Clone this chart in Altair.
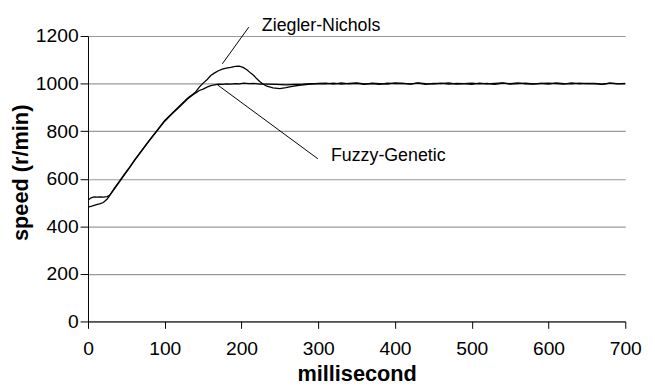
import altair as alt
import pandas as pd

# ---- data ----
zn_t = [0, 5, 10, 15, 20, 25, 28, 34, 41, 47, 53, 61, 70, 80, 90, 100, 110, 120, 130, 140,
        145, 150, 155, 160, 165, 170, 175, 180, 186, 192, 197, 202, 207, 212, 216, 220, 224,
        228, 233, 241, 250, 258, 266, 275, 284, 292, 300,
        310, 320, 330, 340, 350, 360, 370, 380, 390, 400, 410, 420, 430, 440, 450, 460, 470,
        480, 490, 500, 510, 520, 530, 540, 550, 560, 570, 580, 590, 600, 610, 620, 630, 640,
        650, 660, 670, 680, 690, 700]
zn_v = [481, 485, 490, 494, 500, 515, 528, 558, 590, 617, 643, 680, 719, 762, 803, 845, 877, 908, 939, 964,
        985, 1002, 1016, 1034, 1045, 1054, 1061, 1065, 1068, 1072, 1073, 1068, 1058, 1044, 1034, 1020, 1008,
        998, 989, 982, 979, 983, 988, 993, 996, 999, 1001,
        1002, 998, 1003, 999, 1001, 997, 1002, 1000, 998, 1003, 1001, 999, 1002, 997, 1001, 1000, 1003,
        998, 1000, 1002, 999, 1001, 997, 1002, 1000, 1003, 999, 998, 1001, 1002, 1000, 998, 1003, 999,
        1001, 1000, 997, 1002, 1000, 999]

fg_t = [0, 4, 8, 12, 16, 20, 25, 28, 34, 41, 47, 53, 61, 70, 80, 90, 100, 110, 120, 130, 140,
        145, 150, 155, 160, 165, 170, 175, 180, 186, 192, 197, 203, 210, 216, 224, 233, 245,
        258, 270, 280, 290, 300,
        310, 320, 330, 340, 350, 360, 370, 380, 390, 400, 410, 420, 430, 440, 450, 460, 470,
        480, 490, 500, 510, 520, 530, 540, 550, 560, 570, 580, 590, 600, 610, 620, 630, 640,
        650, 660, 670, 680, 690, 700]
fg_v = [510, 520, 524, 523, 524, 523, 525, 530, 555, 587, 614, 641, 678, 717, 760, 801, 842, 874, 905, 936, 960,
        971, 977, 985, 991, 995, 998, 997, 999, 998, 1000, 999, 1002, 1000, 1001, 998, 998, 997,
        995, 997, 998, 1000, 999,
        999, 1002, 998, 1001, 1003, 999, 1000, 997, 1002, 1000, 1001, 998, 1003, 1000, 999, 1002, 998,
        1001, 1000, 997, 1002, 999, 1001, 1003, 998, 1000, 1002, 999, 1001, 998, 1003, 1000, 999,
        1002, 1000, 1001, 998, 1002, 999, 1001]

x_ticks = [0, 100, 200, 300, 400, 500, 600, 700]
y_ticks = [0, 200, 400, 600, 800, 1000, 1200]

labels = ["Ziegler-Nichols", "Fuzzy-Genetic"]
label_x = [226.5, 316.6]
label_y = [1221, 673]
lead_x = [209.4, 168.6]
lead_y = [1237, 995]
lead_x2 = [175.0, 299.4]
lead_y2 = [1083, 684]

# ---- build tables ----
df = pd.concat([
    pd.DataFrame({"t": zn_t, "v": zn_v, "series": "Ziegler-Nichols"}),
    pd.DataFrame({"t": fg_t, "v": fg_v, "series": "Fuzzy-Genetic"}),
])
ann = pd.DataFrame({"x": label_x, "y": label_y, "label": labels})
leads = pd.DataFrame({"x": lead_x, "y": lead_y, "x2": lead_x2, "y2": lead_y2})

FONT = "Liberation Sans"

xscale = alt.Scale(domain=[0, 700], nice=False, zero=False)
yscale = alt.Scale(domain=[0, 1200], nice=False)

lines = alt.Chart(df).mark_line(color="black", strokeWidth=1.3, clip=True).encode(
    x=alt.X("t:Q", scale=xscale, axis=alt.Axis(
        values=x_ticks, format="d", title="millisecond", grid=False, labelFlush=False,
        labelFontSize=19.5, labelColor="black", labelPadding=11, tickSize=7,
        tickColor="black", domainColor="black",
        titleFontSize=22, titleFontWeight="bold", titleColor="black",
        titleBaseline="alphabetic", titleY=60)),
    y=alt.Y("v:Q", scale=yscale, axis=alt.Axis(
        values=y_ticks, format="d", title="speed (r/min)", grid=True, gridColor="#999999", gridWidth=1.2,
        labelFlush=False,
        labelFontSize=19.5, labelColor="black", labelPadding=2, tickSize=8,
        tickColor="black", domainColor="black",
        titleFontSize=22, titleFontWeight="bold", titleColor="black",
        titleAngle=270, titleAlign="center", titleBaseline="alphabetic",
        titleX=-61, titleY=138)),
    detail="series:N",
    order="t:Q",
)

rules = alt.Chart(leads).mark_rule(color="black", strokeWidth=1).encode(
    x=alt.X("x:Q", scale=xscale), y=alt.Y("y:Q", scale=yscale),
    x2="x2:Q", y2="y2:Q",
)

texts = alt.Chart(ann).mark_text(align="left", baseline="alphabetic", fontSize=18,
                                 font=FONT, color="black").encode(
    x=alt.X("x:Q", scale=xscale), y=alt.Y("y:Q", scale=yscale), text="label:N",
)

chart = alt.layer(lines, rules, texts).properties(
    width=544, height=289,
    autosize=alt.AutoSizeParams(type="none"),
    padding={"left": 81, "top": 26, "right": 22, "bottom": 64},
).configure(font=FONT).configure_view(stroke=None)

chart.save("out.html", embed_options={"renderer": "svg", "actions": False})
